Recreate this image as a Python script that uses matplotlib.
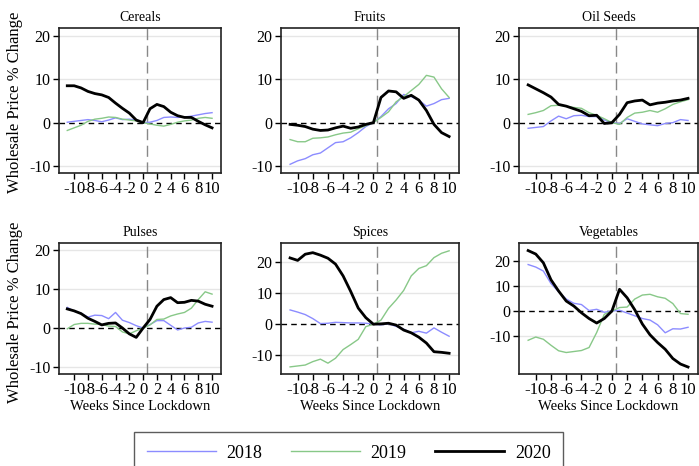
import matplotlib
matplotlib.use("Agg")
import matplotlib.pyplot as plt

plt.rcParams['font.family'] = ['Liberation Serif', 'DejaVu Serif']
plt.rcParams['axes.unicode_minus'] = False

# semanas desde o lockdown
weeks = list(range(-11, 11))

cereals_2018 = [0.1, 0.3, 0.5, 0.7, 0.5, 0.2, 0.6, 1.1, 0.7, 0.8, 0.6, 0, 0.1, 0.5, 1.2, 1.3, 1.2, 1.3, 1.5, 1.8, 2.1, 2.3]
cereals_2019 = [-1.8, -1.2, -0.6, 0.3, 0.8, 1.0, 1.3, 1.2, 0.8, 0.6, 0.4, 0, -0.3, -0.6, -0.8, -0.4, 0.1, 0.4, 0.6, 1.0, 1.2, 1.0]
cereals_2020 = [8.5, 8.5, 8.0, 7.2, 6.7, 6.4, 5.8, 4.5, 3.3, 2.2, 0.6, 0, 3.2, 4.2, 3.7, 2.4, 1.6, 1.2, 1.2, 0.3, -0.5, -1.2]

fruits_2018 = [-9.6, -8.8, -8.3, -7.4, -7.0, -5.8, -4.6, -4.4, -3.5, -2.3, -0.9, 0, 1.4, 3.2, 4.4, 6.5, 6.0, 5.2, 3.8, 4.4, 5.3, 5.6]
fruits_2019 = [-3.9, -4.4, -4.4, -3.6, -3.5, -3.3, -2.8, -2.4, -2.2, -1.4, -0.7, 0, 1.2, 2.5, 4.8, 6.0, 7.4, 8.8, 10.9, 10.5, 7.8, 5.8]
fruits_2020 = [-0.4, -0.6, -0.9, -1.5, -1.8, -1.7, -1.2, -0.8, -1.3, -1.0, -0.4, 0, 5.8, 7.3, 7.1, 5.6, 6.3, 5.2, 2.8, -0.4, -2.3, -3.2]

oilseeds_2018 = [-1.3, -1.1, -0.9, 0.4, 1.5, 0.9, 1.6, 1.7, 1.4, 1.4, 0.6, 0, -0.2, 0.9, 0.3, -0.3, -0.5, -0.7, -0.2, 0.0, 0.7, 0.5]
oilseeds_2019 = [1.9, 2.3, 2.8, 3.9, 4.0, 3.8, 3.5, 3.3, 2.3, 1.7, 0.9, 0, -0.4, 1.2, 2.2, 2.4, 2.8, 2.4, 3.2, 4.2, 4.8, 5.3]
oilseeds_2020 = [8.7, 7.8, 6.9, 5.9, 4.2, 3.8, 3.2, 2.6, 1.6, 1.7, -0.2, 0, 1.9, 4.6, 5.0, 5.2, 4.1, 4.5, 4.7, 5.0, 5.2, 5.6]

pulses_2018 = [5.3, 4.3, 3.8, 2.8, 3.3, 3.2, 2.4, 4.0, 2.0, 1.4, 0.6, 0, 0.9, 1.9, 1.9, 0.7, -0.5, 0.0, 0.2, 1.3, 1.7, 1.5]
pulses_2019 = [-0.2, 0.9, 1.2, 1.2, 1.0, 0.9, 0.5, 0.4, -1.0, -1.5, -0.7, 0, 0.8, 2.2, 2.3, 3.1, 3.6, 4.0, 5.1, 7.3, 9.3, 8.7]
pulses_2020 = [4.9, 4.4, 3.7, 2.5, 1.7, 0.8, 1.2, 1.3, 0.0, -1.5, -2.4, 0, 2.2, 5.6, 7.3, 7.8, 6.5, 6.6, 7.1, 6.9, 6.1, 5.6]

spices_2018 = [4.6, 3.9, 3.1, 1.8, 0.2, 0.3, 0.6, 0.5, 0.4, 0.4, 0.3, 0, -0.2, 0.1, -0.7, -1.6, -2.8, -2.3, -2.9, -1.2, -2.6, -3.9]
spices_2019 = [-13.8, -13.5, -13.2, -12.1, -11.3, -12.6, -11.0, -8.2, -6.6, -4.9, -0.8, 0, 1.3, 5.1, 7.8, 10.9, 15.6, 18.0, 18.9, 21.5, 22.9, 23.7]
spices_2020 = [21.4, 20.6, 22.6, 23.1, 22.3, 21.3, 19.4, 15.6, 10.6, 5.2, 2.1, 0, 0.1, 0.3, -0.3, -1.9, -2.8, -4.2, -6.1, -8.9, -9.1, -9.4]

veg_2018 = [18.6, 17.6, 16.0, 11.0, 7.7, 4.8, 3.1, 2.6, 0.2, 0.7, -0.5, 0, 0.3, -0.8, -1.9, -3.0, -3.6, -5.5, -8.7, -7.1, -7.2, -6.5]
veg_2019 = [-11.7, -10.4, -11.3, -13.7, -15.9, -16.6, -16.2, -15.8, -14.6, -8.6, -1.3, 0, 1.4, 1.6, 4.8, 6.4, 6.7, 5.7, 5.1, 3.0, -1.0, -1.3]
veg_2020 = [24.2, 22.8, 19.3, 12.5, 8.0, 4.0, 2.0, -0.7, -3.0, -4.8, -3.0, 0, 8.7, 5.3, 0.5, -5.2, -9.5, -12.6, -15.3, -19.0, -21.2, -22.4]

paineis = [
    ('Cereals', cereals_2018, cereals_2019, cereals_2020, (-11.6, 21.8)),
    ('Fruits', fruits_2018, fruits_2019, fruits_2020, (-11.6, 21.8)),
    ('Oil Seeds', oilseeds_2018, oilseeds_2019, oilseeds_2020, (-11.6, 21.8)),
    ('Pulses', pulses_2018, pulses_2019, pulses_2020, (-11.8, 21.8)),
    ('Spices', spices_2018, spices_2019, spices_2020, (-16.1, 26.2)),
    ('Vegetables', veg_2018, veg_2019, veg_2020, (-25.2, 27.2)),
]

# posicoes dos eixos (em fracao da figura)
lefts = [0.0844, 0.402, 0.7425]
widths = [0.2318, 0.2546, 0.256]
bottoms = [0.6288, 0.1974]
heights = [0.311, 0.281]

fig = plt.figure(figsize=(6.99, 4.66), dpi=100)

for i, (nome, a18, a19, a20, ylim) in enumerate(paineis):
    r, c = divmod(i, 3)
    ax = fig.add_axes([lefts[c], bottoms[r], widths[c], heights[r]])
    for y in [-10, 10, 20]:
        ax.axhline(y, color='#e6e6e6', lw=1, zorder=0)
    ax.axhline(0, color='black', lw=1, ls=(0, (4, 3)), zorder=1)
    ax.axvline(0.5, color='#888888', lw=1, ls=(0, (8, 4)), zorder=1)
    l1, = ax.plot(weeks, a18, color='#8c8cff', lw=1, label='2018')
    l2, = ax.plot(weeks, a19, color='#88c888', lw=1, label='2019')
    l3, = ax.plot(weeks, a20, color='black', lw=2, label='2020')
    ax.set_xlim(-12.2, 11.3)
    ax.set_ylim(*ylim)
    ax.set_xticks(range(-10, 11, 2))
    ax.set_yticks([-10, 0, 10, 20])
    ax.tick_params(axis='y', labelsize=11.5)
    ax.tick_params(axis='x', labelsize=12)
    ax.tick_params(direction='out', length=4, width=1, pad=2)
    for s in ax.spines.values():
        s.set_linewidth(1.2)
        s.set_color('#222222')
    ax.set_title(nome, fontsize=10, pad=5)
    if r == 1:
        ax.set_xlabel('Weeks Since Lockdown', fontsize=10.5, labelpad=1)

fig.text(0.022, 0.78, 'Wholesale Price % Change', rotation=90, fontsize=12, ha='center', va='center')
fig.text(0.022, 0.33, 'Wholesale Price % Change', rotation=90, fontsize=12, ha='center', va='center')

leg = fig.legend([l1, l2, l3], ['2018', '2019', '2020'], loc='upper center',
                 bbox_to_anchor=(0.499, 0.073), ncol=3, fontsize=13, frameon=True,
                 fancybox=False, handlelength=3.8, columnspacing=1.6, handletextpad=0.6,
                 borderpad=0.7, borderaxespad=0)
leg.get_frame().set_edgecolor('#333333')
leg.get_frame().set_linewidth(1)

fig.savefig('out.png', dpi=100)
